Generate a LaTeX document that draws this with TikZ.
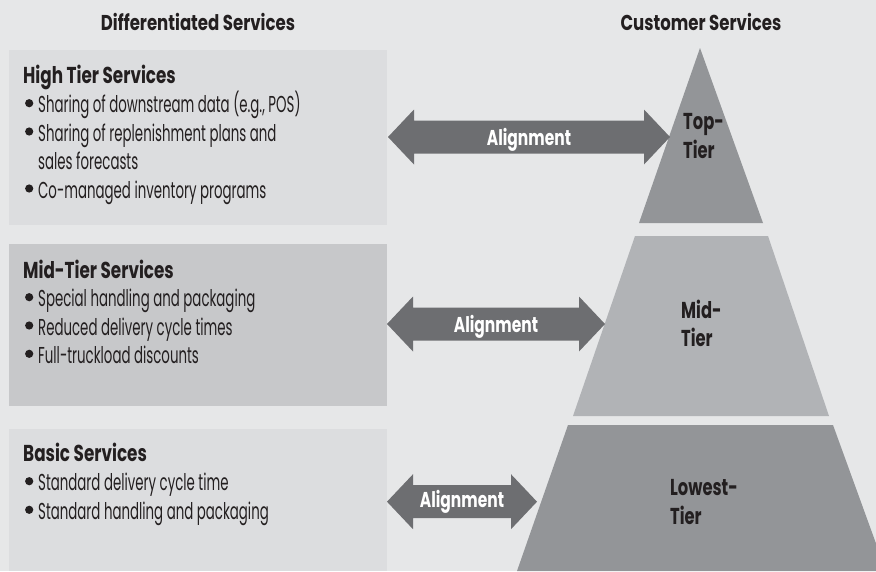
\documentclass[tikz,border=0pt]{standalone}
\usepackage{fontspec}
\setmainfont{Poppins}
\newfontfamily\bodyf{Poppins}[FakeStretch=0.58]
\newfontfamily\headf{Poppins}[FakeStretch=0.73]
\newfontfamily\tophf{Poppins}[FakeStretch=0.77]
\newfontfamily\algf{Poppins}[FakeStretch=0.72]
\newfontfamily\tierf{Poppins}[FakeStretch=0.71]
\usetikzlibrary{calc}
\definecolor{bg}{HTML}{E6E7E8}
\definecolor{boxlight}{HTML}{DCDDDF}
\definecolor{boxmid}{HTML}{C7C8CA}
\definecolor{tierdark}{HTML}{939598}
\definecolor{tiermid}{HTML}{B1B3B6}
\definecolor{arrowc}{HTML}{6D6E71}
\definecolor{ink}{HTML}{231F20}
\newcommand\myDblArrow[2]{%
  \fill[arrowc] (#1) -- ($(#1)+(26,-27.5)$) -- ($(#1)+(26,-16.5)$) -- ($(#2)+(-26,-16.5)$)
    -- ($(#2)+(-26,-27.5)$) -- (#2) -- ($(#2)+(-26,27.5)$) -- ($(#2)+(-26,16.5)$)
    -- ($(#1)+(26,16.5)$) -- ($(#1)+(26,27.5)$) -- cycle;}
\begin{document}
\begin{tikzpicture}[x=1pt,y=-1pt,
  txt/.style={inner sep=0pt, anchor=base west, text=ink},
  body/.style={txt, font=\bodyf\fontsize{23}{28.5}\selectfont},
  head/.style={txt, font=\headf\bfseries\fontsize{23}{28.5}\selectfont},
  tophead/.style={txt, anchor=base, font=\tophf\bfseries\fontsize{21.5}{28.5}\selectfont},
  tierlbl/.style={txt, font=\tierf\bfseries\fontsize{23}{28.5}\selectfont},
  alignlbl/.style={inner sep=0pt, anchor=base, text=white, font=\algf\bfseries\fontsize{21.5}{24}\selectfont},
  bullet/.style={fill=ink}]
\useasboundingbox (0,0) rectangle (876,571);
\clip (0,0) rectangle (876,571);
\fill[bg] (0,0) rectangle (876,571);

% column headings
\node[tophead] (hdL) at (198,30) {Differentiated Services};
\node[tophead] (hdR) at (701,30) {Customer Services};

% left boxes
\fill[boxlight] (9,50) rectangle (387,225);
\fill[boxmid] (9,244) rectangle (387,405.7);
\fill[boxlight] (9,429) rectangle (387,571);

% High tier text
\node[head] (hiH) at (23,83.3) {High Tier Services};
\fill[bullet] (29.2,103.2) circle (4.1);
\node[body] (hi1) at (38,112.7) {Sharing of downstream data (e.g., POS)};
\fill[bullet] (29.2,131.5) circle (4.1);
\node[body] (hi2) at (38,141) {Sharing of replenishment plans and};
\node[body] (hi3) at (38,169.5) {sales forecasts};
\fill[bullet] (29.2,188.5) circle (4.1);
\node[body] (hi4) at (38,198) {Co-managed inventory programs};

% Mid tier text
\node[head] (miH) at (23,278.3) {Mid-Tier Services};
\fill[bullet] (29.2,297.2) circle (4.1);
\node[body] (mi1) at (38,306.7) {Special handling and packaging};
\fill[bullet] (29.2,325.5) circle (4.1);
\node[body] (mi2) at (38,335) {Reduced delivery cycle times};
\fill[bullet] (29.2,353.8) circle (4.1);
\node[body] (mi3) at (38,363.3) {Full-truckload discounts};

% Basic text
\node[head] (baH) at (23,461.7) {Basic Services};
\fill[bullet] (29.2,481.2) circle (4.1);
\node[body] (ba1) at (38,490.7) {Standard delivery cycle time};
\fill[bullet] (29.2,509.8) circle (4.1);
\node[body] (ba2) at (38,519.3) {Standard handling and packaging};

% pyramid
\fill[tierdark] (700,48) -- (763,223) -- (639,223) -- cycle;
\fill[tiermid] (635,236) -- (768,236) -- (829,416) -- (573,416) -- cycle;
\fill[tierdark] (568,425) -- (833,425) -- (886,571) -- (517,571) -- cycle;

\node[tierlbl] (tT1) at (683,129.5) {Top-};
\node[tierlbl] (tT2) at (683,158) {Tier};
\node[tierlbl] (tM1) at (681,318) {Mid-};
\node[tierlbl] (tM2) at (681,346.7) {Tier};
\node[tierlbl] (tL1) at (670,495) {Lowest-};
\node[tierlbl] (tL2) at (670,524) {Tier};

% alignment arrows
\coordinate (A1L) at (388,137);
\coordinate (A1R) at (670,137);
\coordinate (A2L) at (387,324);
\coordinate (A2R) at (605,324);
\coordinate (A3L) at (387,501.7);
\coordinate (A3R) at (537,501.7);
\myDblArrow{A1L}{A1R}
\myDblArrow{A2L}{A2R}
\myDblArrow{A3L}{A3R}
\node[alignlbl] (al1) at ($(A1L)!0.5!(A1R)+(0,8)$) {Alignment};
\node[alignlbl] (al2) at ($(A2L)!0.5!(A2R)+(0,8)$) {Alignment};
\node[alignlbl] (al3) at ($(A3L)!0.5!(A3R)+(0,6)$) {Alignment};
\end{tikzpicture}
\end{document}
